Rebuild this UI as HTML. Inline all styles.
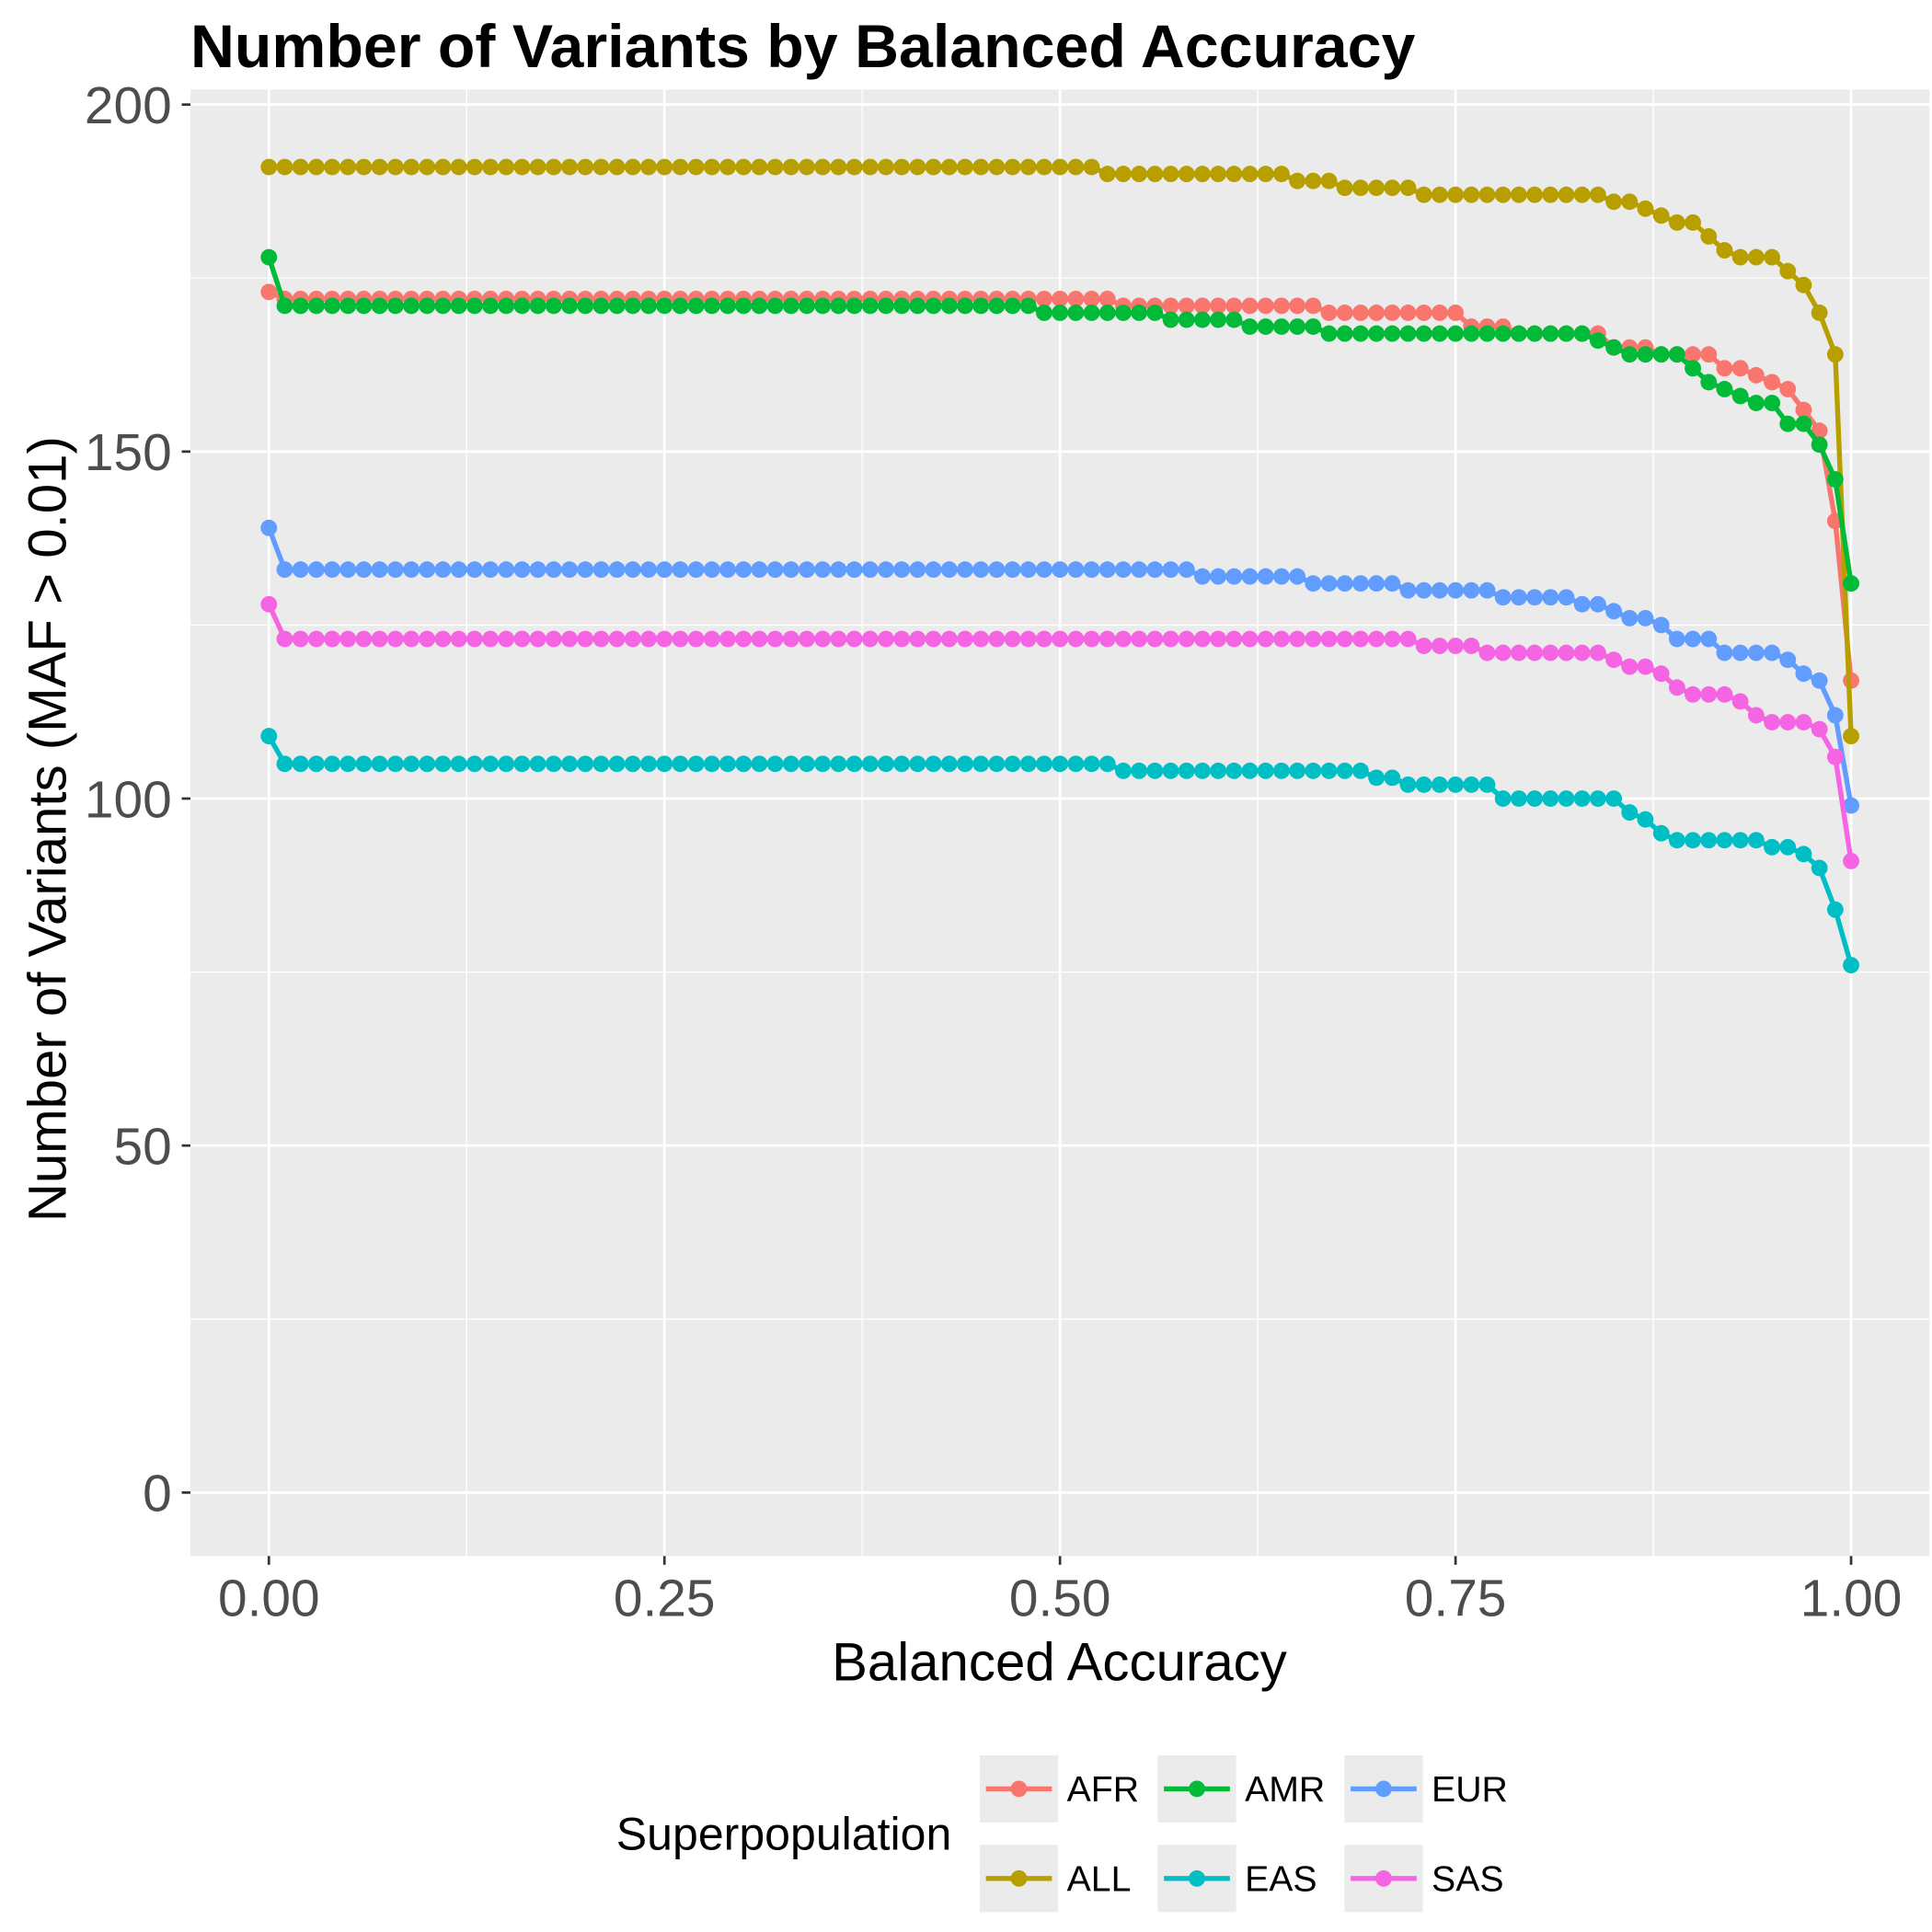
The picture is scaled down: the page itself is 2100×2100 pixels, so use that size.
<!DOCTYPE html>
<html><head><meta charset="utf-8"><style>
html,body{margin:0;padding:0;background:#fff;}
svg{display:block;font-family:"Liberation Sans",Arial,sans-serif;}
</style></head><body>
<svg id="chart" width="2100" height="2100" viewBox="0 0 1552 1552" xmlns="http://www.w3.org/2000/svg">
<rect x="0" y="0" width="1552" height="1552" fill="#fff"/>
<text x="153" y="54" font-size="49" font-weight="bold" fill="#000">Number of Variants by Balanced Accuracy</text>
<rect x="153" y="72" width="1397" height="1178" fill="#EBEBEB"/>
<g id="grid"></g>
<g id="series"></g>
<g id="axes"></g>
<text x="851" y="1350" font-size="43" text-anchor="middle" fill="#000">Balanced Accuracy</text>
<text transform="translate(53,666) rotate(-90)" font-size="43" text-anchor="middle" fill="#000">Number of Variants (MAF &gt; 0.01)</text>
<g id="legend">
<text x="495" y="1486" font-size="37" fill="#000">Superpopulation</text>
</g>
</svg>
<script>
const xTicks=[0,0.25,0.5,0.75,1];
const xTickLabels=["0.00","0.25","0.50","0.75","1.00"];
const yTicks=[0,50,100,150,200];
const seriesNames=["AFR","ALL","AMR","EAS","EUR","SAS"];
// step-wise values as [fromIndex, value] runs; index i => balanced accuracy i/100
const runsAFR=[[0,173],[1,172],[54,171],[67,170],[76,168],[79,167],[85,165],[88,164],[92,162],[94,161],[95,160],[96,159],[97,156],[98,153],[99,140],[100,117]];
const runsALL=[[0,191],[53,190],[65,189],[68,188],[73,187],[85,186],[87,185],[88,184],[89,183],[91,181],[92,179],[93,178],[96,176],[97,174],[98,170],[99,164],[100,109]];
const runsAMR=[[0,178],[1,171],[49,170],[57,169],[62,168],[67,167],[84,166],[85,165],[86,164],[90,162],[91,160],[92,159],[93,158],[94,157],[96,154],[98,151],[99,146],[100,131]];
const runsEAS=[[0,109],[1,105],[54,104],[70,103],[72,102],[78,100],[86,98],[87,97],[88,95],[89,94],[95,93],[97,92],[98,90],[99,84],[100,76]];
const runsEUR=[[0,139],[1,133],[59,132],[66,131],[72,130],[78,129],[83,128],[85,127],[86,126],[88,125],[89,123],[92,121],[96,120],[97,118],[98,117],[99,112],[100,99]];
const runsSAS=[[0,128],[1,123],[73,122],[77,121],[85,120],[86,119],[88,118],[89,116],[90,115],[93,114],[94,112],[95,111],[98,110],[99,106],[100,91]];
const colors={AFR:"#F8766D",ALL:"#B79F00",AMR:"#00BA38",EAS:"#00BFC4",EUR:"#619CFF",SAS:"#F564E3"};
const runs={AFR:runsAFR,ALL:runsALL,AMR:runsAMR,EAS:runsEAS,EUR:runsEUR,SAS:runsSAS};

const NS="http://www.w3.org/2000/svg";
const xs=v=>216+v*(1487-216);
const ys=v=>1199-v*(1199-84)/200;
function mk(t,a,p){const e=document.createElementNS(NS,t);for(const k in a)e.setAttribute(k,a[k]);p.appendChild(e);return e;}
function expand(r){const out=[];for(let i=0;i<=100;i++){let v=r[0][1];for(const [s,val] of r) if(i>=s) v=val;out.push(v);}return out;}

const grid=document.getElementById('grid');
[0.125,0.375,0.625,0.875].forEach(v=>{const l=mk('line',{x1:xs(v),x2:xs(v),y1:72,y2:1250,stroke:'#fff','stroke-width':1},grid);
});
[25,75,125,175].forEach(v=>{const l=mk('line',{x1:153,x2:1550,y1:ys(v),y2:ys(v),stroke:'#fff','stroke-width':1},grid);
});
xTicks.forEach(v=>{const l=mk('line',{x1:xs(v),x2:xs(v),y1:72,y2:1250,stroke:'#fff','stroke-width':2},grid);
});
yTicks.forEach(v=>{const l=mk('line',{x1:153,x2:1550,y1:ys(v),y2:ys(v),stroke:'#fff','stroke-width':2},grid);
});

const axes=document.getElementById('axes');
xTicks.forEach((v,i)=>{const t=mk('line',{x1:xs(v),x2:xs(v),y1:1250,y2:1257,stroke:'#333','stroke-width':2},axes);

const tx=mk('text',{x:xs(v),y:1298,'font-size':42,'text-anchor':'middle',fill:'#4D4D4D'},axes);tx.textContent=xTickLabels[i];
});
yTicks.forEach(v=>{const t=mk('line',{x1:146,x2:153,y1:ys(v),y2:ys(v),stroke:'#333','stroke-width':2},axes);

const tx=mk('text',{x:138,y:ys(v)+15,'font-size':42,'text-anchor':'end',fill:'#4D4D4D'},axes);tx.textContent=String(v);
});

const sg=document.getElementById('series');
seriesNames.forEach(n=>{const vals=expand(runs[n]);const g=mk('g',{},sg);

const pts=vals.map((v,i)=>xs(i/100)+','+ys(v)).join(' ');
const pl=mk('polyline',{points:pts,fill:'none',stroke:colors[n],'stroke-width':4,'stroke-linejoin':'round'},g);

vals.forEach((v,i)=>{const c=mk('circle',{cx:xs(i/100),cy:ys(v),r:6.6,fill:colors[n]},g);
});});

const lg=document.getElementById('legend');
const legPos={AFR:[787,1437],AMR:[930,1437],EUR:[1080,1437],ALL:[787,1509],EAS:[930,1509],SAS:[1080,1509]};
seriesNames.forEach(n=>{const [x,y]=legPos[n];const g=mk('g',{},lg);

mk('rect',{x:x,y:y-27,width:63,height:54,fill:'#EBEBEB'},g);
mk('line',{x1:x+5,x2:x+58,y1:y,y2:y,stroke:colors[n],'stroke-width':4},g);
mk('circle',{cx:x+31.5,cy:y,r:6.6,fill:colors[n]},g);
const t=mk('text',{x:x+70,y:y+10,'font-size':29,fill:'#000'},g);t.textContent=n;});
</script>
</body></html>
